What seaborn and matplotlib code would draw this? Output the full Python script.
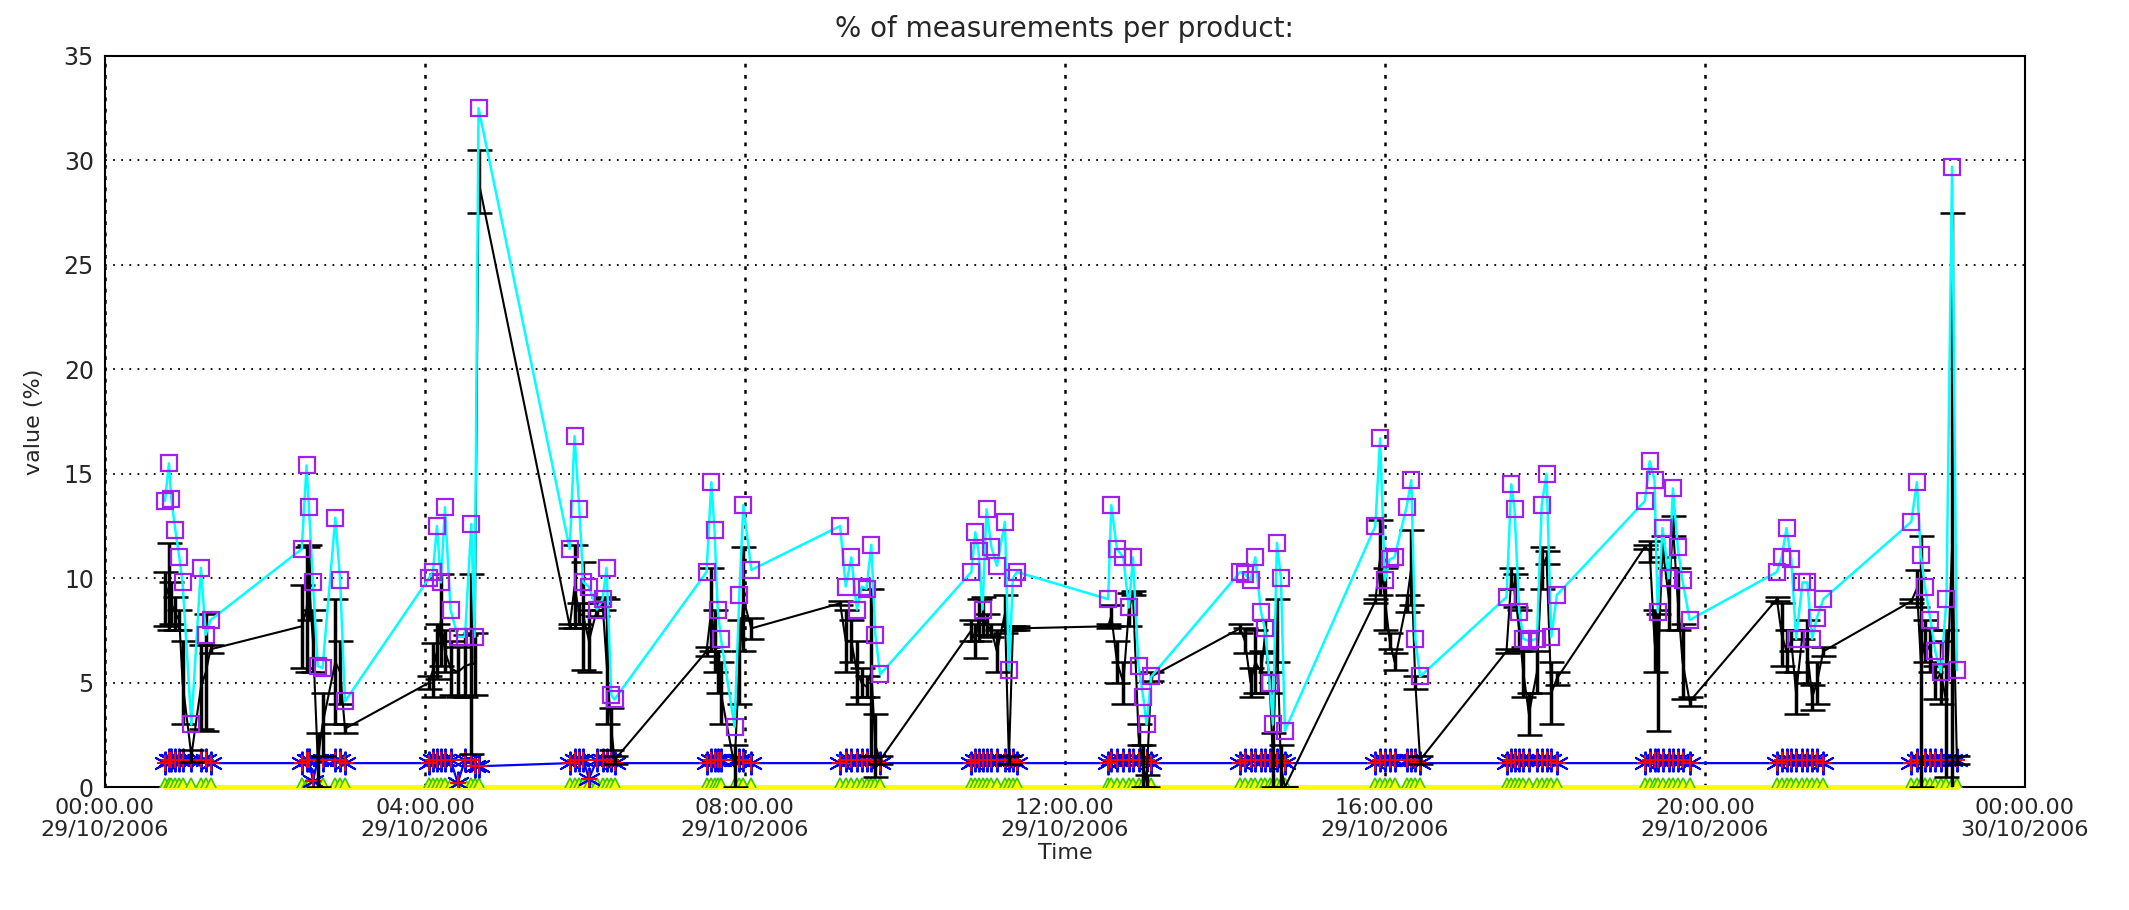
"""% of measurements per product over one day (29/10/2006)."""

import matplotlib
matplotlib.use("Agg")
import matplotlib.pyplot as plt
import pandas as pd
import seaborn as sns

# time of each measurement, hours after 00:00 29/10/2006
hours = [
    0.75, 0.80, 0.83, 0.88, 0.93, 0.97, 1.08, 1.20, 1.26, 1.32,
    2.46, 2.52, 2.55, 2.60, 2.66, 2.72, 2.88, 2.94, 3.00,
    4.05, 4.10, 4.15, 4.20, 4.25, 4.32, 4.41, 4.50, 4.58, 4.62, 4.67,
    5.81, 5.87, 5.93, 5.98, 6.05, 6.15, 6.22, 6.27, 6.33, 6.37,
    7.52, 7.58, 7.62, 7.66, 7.70, 7.87, 7.93, 7.98, 8.08,
    9.19, 9.26, 9.33, 9.40, 9.46, 9.52, 9.58, 9.63, 9.69,
    10.83, 10.88, 10.92, 10.97, 11.02, 11.08, 11.15, 11.25, 11.30, 11.35, 11.40,
    12.54, 12.58, 12.65, 12.73, 12.80, 12.85, 12.92, 12.98, 13.02, 13.08,
    14.19, 14.25, 14.32, 14.38, 14.45, 14.50, 14.56, 14.60, 14.65, 14.70, 14.75,
    15.88, 15.94, 16.00, 16.06, 16.12, 16.27, 16.33, 16.38, 16.44,
    17.52, 17.58, 17.62, 17.68, 17.73, 17.80, 17.90, 17.96, 18.02, 18.08, 18.15,
    19.25, 19.31, 19.37, 19.41, 19.47, 19.55, 19.60, 19.66, 19.72, 19.81,
    20.90, 20.96, 21.02, 21.08, 21.14, 21.22, 21.28, 21.34, 21.40, 21.48,
    22.58, 22.65, 22.70, 22.75, 22.82, 22.88, 22.95, 23.02, 23.09, 23.15,
]

max_pct = [
    13.7, 15.5, 13.8, 12.3, 11.0, 9.8, 3.0, 10.5, 7.3, 8.0,
    11.4, 15.4, 13.4, 9.8, 5.8, 5.7, 12.9, 9.9, 4.1,
    10.0, 10.3, 12.5, 9.8, 13.4, 8.5, 7.2, 7.2, 12.6, 7.2, 32.5,
    11.4, 16.8, 13.3, 9.8, 9.6, 8.5, 9.0, 10.5, 4.4, 4.2,
    10.3, 14.6, 12.3, 8.5, 7.1, 2.9, 9.2, 13.5, 10.4,
    12.5, 9.6, 11.0, 8.5, 9.6, 9.5, 11.6, 7.3, 5.4,
    10.3, 12.2, 11.3, 8.5, 13.3, 11.5, 10.6, 12.7, 5.6, 10.0, 10.3,
    9.0, 13.5, 11.4, 11.0, 8.6, 11.0, 5.8, 4.3, 3.0, 5.3,
    10.3, 10.2, 9.9, 11.0, 8.4, 7.6, 5.0, 3.0, 11.7, 10.0, 2.7,
    12.5, 16.7, 9.9, 10.9, 11.0, 13.4, 14.7, 7.1, 5.3,
    9.1, 14.5, 13.3, 8.4, 7.1, 7.0, 7.1, 13.5, 15.0, 7.2, 9.2,
    13.7, 15.6, 14.7, 8.4, 12.4, 10.0, 14.3, 11.5, 9.9, 8.0,
    10.3, 11.0, 12.4, 10.9, 7.1, 9.8, 9.8, 7.1, 8.1, 9.0,
    12.7, 14.6, 11.1, 9.6, 8.0, 6.5, 5.5, 9.0, 29.7, 5.6,
]

mean_pct = [
    9.0, 9.6, 8.8, 8.3, 8.0, 5.0, 1.5, 4.8, 5.5, 6.6,
    7.7, 8.5, 9.8, 7.0, 1.3, 3.0, 6.0, 5.5, 2.8,
    5.0, 5.6, 6.5, 8.0, 6.5, 5.7, 5.5, 5.8, 5.9, 5.9, 29.0,
    7.7, 9.6, 8.3, 8.2, 7.0, 8.5, 8.8, 6.0, 2.8, 1.3,
    6.5, 8.5, 7.0, 5.5, 4.5, 1.0, 6.0, 9.0, 7.6,
    8.8, 7.0, 7.0, 5.5, 5.0, 4.8, 5.5, 2.0, 1.3,
    7.5, 7.0, 8.0, 8.2, 7.8, 7.5, 6.5, 8.3, 1.3, 7.6, 7.6,
    7.7, 8.2, 6.0, 5.0, 8.5, 9.3, 2.5, 1.0, 0.3, 5.3,
    7.6, 7.0, 5.0, 6.0, 5.5, 7.2, 5.0, 1.3, 7.5, 1.0, 0.0,
    8.9, 11.0, 9.0, 7.0, 6.0, 8.8, 10.5, 5.0, 1.3,
    6.5, 10.0, 9.4, 7.5, 5.5, 3.5, 5.5, 10.5, 11.0, 4.5, 5.2,
    11.5, 11.3, 7.0, 5.5, 11.5, 9.0, 12.5, 9.0, 6.0, 4.1,
    9.0, 7.3, 6.5, 7.0, 4.5, 7.3, 6.5, 4.3, 5.0, 6.5,
    8.9, 9.5, 6.0, 7.0, 6.5, 5.0, 5.5, 4.0, 11.5, 1.3,
]

std_pct = [
    1.3, 2.1, 1.0, 0.8, 0.5, 2.0, 0.3, 2.0, 2.8, 0.2,
    2.0, 3.0, 1.8, 1.5, 1.3, 1.5, 3.0, 1.5, 0.2,
    0.3, 1.3, 1.3, 2.2, 1.0, 1.3, 1.2, 1.5, 4.3, 1.5, 1.5,
    0.1, 2.0, 0.5, 2.6, 1.5, 0.3, 0.3, 3.0, 1.0, 0.2,
    0.2, 2.0, 1.5, 1.0, 1.5, 1.0, 2.0, 2.5, 0.5,
    0.1, 1.5, 1.0, 1.5, 0.7, 0.5, 4.0, 1.5, 0.2,
    0.5, 0.8, 1.0, 0.9, 0.5, 0.3, 1.0, 0.9, 0.2, 0.1, 0.1,
    0.1, 0.5, 1.0, 1.0, 0.8, 0.1, 0.5, 1.0, 0.3, 0.2,
    0.2, 0.6, 0.7, 1.5, 1.0, 0.8, 0.5, 1.3, 1.5, 1.0, 0.0,
    0.1, 1.8, 1.5, 0.4, 0.4, 0.4, 1.8, 0.3, 0.2,
    0.1, 0.5, 0.8, 1.0, 1.2, 1.0, 1.0, 1.0, 0.3, 1.5, 0.3,
    0.1, 0.5, 1.5, 2.8, 0.5, 1.5, 0.5, 1.5, 1.8, 0.2,
    0.1, 1.5, 1.0, 0.5, 1.0, 0.2, 1.5, 0.6, 1.0, 0.2,
    0.1, 0.9, 6.0, 1.0, 1.0, 0.8, 1.5, 3.5, 16.0, 0.2,
]

min_pct = [
    1.15, 1.3, 1.3, 1.3, 1.3, 1.3, 1.3, 1.3, 1.3, 1.15,
    1.15, 1.3, 1.3, 0.3, 1.3, 1.3, 1.3, 1.3, 1.15,
    1.15, 1.3, 1.3, 1.3, 1.3, 1.3, 0.2, 1.3, 1.3, 1.0, 1.0,
    1.15, 1.3, 1.3, 1.3, 0.4, 1.3, 1.3, 1.3, 1.3, 1.15,
    1.15, 1.3, 1.3, 1.3, 1.3, 1.3, 1.3, 1.3, 1.15,
    1.15, 1.3, 1.3, 1.3, 1.3, 1.3, 1.3, 1.3, 1.15,
    1.15, 1.3, 1.3, 1.3, 1.3, 1.3, 1.3, 1.3, 1.3, 1.3, 1.15,
    1.15, 1.3, 1.3, 1.3, 1.3, 1.3, 1.3, 1.3, 1.3, 1.15,
    1.15, 1.3, 1.3, 1.3, 1.3, 1.3, 1.3, 1.3, 1.3, 1.3, 1.15,
    1.15, 1.3, 1.3, 1.3, 1.3, 1.3, 1.3, 1.3, 1.15,
    1.15, 1.3, 1.3, 1.3, 1.3, 1.3, 1.3, 1.3, 1.3, 1.3, 1.15,
    1.15, 1.3, 1.3, 1.3, 1.3, 1.3, 1.3, 1.3, 1.3, 1.15,
    1.15, 1.3, 1.3, 1.3, 1.3, 1.3, 1.3, 1.3, 1.3, 1.15,
    1.15, 1.3, 1.3, 1.3, 1.3, 1.3, 1.3, 1.3, 1.3, 1.3,
]

zero_pct = [
    0.0, 0.0, 0.0, 0.0, 0.0, 0.0, 0.0, 0.0, 0.0, 0.0,
    0.0, 0.0, 0.0, 0.0, 0.0, 0.0, 0.0, 0.0, 0.0,
    0.0, 0.0, 0.0, 0.0, 0.0, 0.0, 0.0, 0.0, 0.0, 0.0, 0.0,
    0.0, 0.0, 0.0, 0.0, 0.0, 0.0, 0.0, 0.0, 0.0, 0.0,
    0.0, 0.0, 0.0, 0.0, 0.0, 0.0, 0.0, 0.0, 0.0,
    0.0, 0.0, 0.0, 0.0, 0.0, 0.0, 0.0, 0.0, 0.0,
    0.0, 0.0, 0.0, 0.0, 0.0, 0.0, 0.0, 0.0, 0.0, 0.0, 0.0,
    0.0, 0.0, 0.0, 0.0, 0.0, 0.0, 0.0, 0.0, 0.0, 0.0,
    0.0, 0.0, 0.0, 0.0, 0.0, 0.0, 0.0, 0.0, 0.0, 0.0, 0.0,
    0.0, 0.0, 0.0, 0.0, 0.0, 0.0, 0.0, 0.0, 0.0,
    0.0, 0.0, 0.0, 0.0, 0.0, 0.0, 0.0, 0.0, 0.0, 0.0, 0.0,
    0.0, 0.0, 0.0, 0.0, 0.0, 0.0, 0.0, 0.0, 0.0, 0.0,
    0.0, 0.0, 0.0, 0.0, 0.0, 0.0, 0.0, 0.0, 0.0, 0.0,
    0.0, 0.0, 0.0, 0.0, 0.0, 0.0, 0.0, 0.0, 0.0, 0.0,
]

tick_hours = [0, 4, 8, 12, 16, 20, 24]
tick_labels = [
    "00:00.00\n29/10/2006", "04:00.00\n29/10/2006", "08:00.00\n29/10/2006",
    "12:00.00\n29/10/2006", "16:00.00\n29/10/2006", "20:00.00\n29/10/2006",
    "00:00.00\n30/10/2006",
]

frame = pd.DataFrame({
    "hours": hours, "max": max_pct, "mean": mean_pct,
    "std": std_pct, "min": min_pct, "zero": zero_pct,
})

sns.set_style("white")
plt.rcParams["font.family"] = ["DejaVu Sans"]

fig = plt.figure(figsize=(21.29, 9.10), dpi=100)
ax = fig.add_axes([0.0493, 0.135, 0.9018, 0.8035])

# zero series along the bottom, drawn over the frame
sns.lineplot(data=frame, x="hours", y="zero", sort=False, estimator=None,
             color="yellow", lw=3.5, ax=ax, zorder=3, clip_on=False)
ax.plot(frame["hours"], frame["zero"], ls="none", marker="^", ms=13,
        markerfacecolor="yellow", markeredgecolor="#33cc00", mew=1.2, zorder=3)

# minimum series, blue asterisks with red crosses
sns.lineplot(data=frame, x="hours", y="min", sort=False, estimator=None,
             color="blue", lw=1.6, ax=ax, zorder=3)
ax.plot(frame["hours"], frame["min"], ls="none", marker=(6, 2, 0), ms=17,
        color="blue", mew=1.4, zorder=3)
ax.plot(frame["hours"], frame["min"], ls="none", marker="+", ms=12,
        color="red", mew=1.4, zorder=3)

# mean with std error bars
ax.errorbar(frame["hours"], frame["mean"], yerr=frame["std"], color="black",
            lw=1.5, elinewidth=2.5, capsize=9, capthick=1.8, zorder=4)

# maximum series
sns.lineplot(data=frame, x="hours", y="max", sort=False, estimator=None,
             color="cyan", lw=1.8, ax=ax, zorder=5)
ax.plot(frame["hours"], frame["max"], ls="none", marker="s", ms=11,
        markerfacecolor="none", markeredgecolor="#a020f0", mew=1.6, zorder=6)

ax.set_xlim(0, 24)
ax.set_ylim(0, 35)
ax.set_xticks(tick_hours)
ax.set_xticklabels(tick_labels, fontsize=16, linespacing=1.1)
ax.set_yticks(range(0, 36, 5))
ax.tick_params(axis="both", labelsize=17, length=0, pad=8)
ax.tick_params(axis="x", labelsize=16, pad=8)

ax.grid(True, axis="y", color="black", ls=(0, (1, 3.5)), lw=1.3)
ax.grid(True, axis="x", color="black", ls=(0, (1.5, 3)), lw=1.8)
for spine in ax.spines.values():
    spine.set_color("black")
    spine.set_linewidth(1.5)

ax.set_title("% of measurements per product:", fontsize=20, pad=14)
ax.set_xlabel("Time", fontsize=16, labelpad=2)
ax.set_ylabel("value (%)", fontsize=16, labelpad=14)

fig.savefig("out.png", dpi=100)
